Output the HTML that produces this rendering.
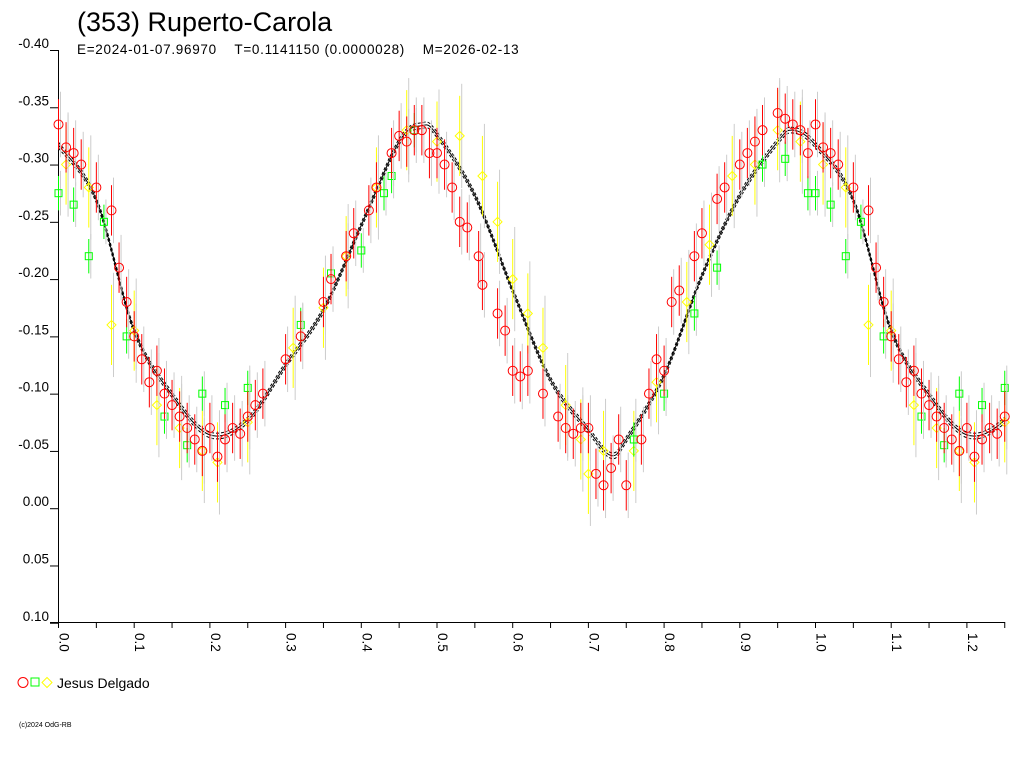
<!DOCTYPE html>
<html><head><meta charset="utf-8"><style>
body{margin:0;background:#fff;width:1024px;height:768px;overflow:hidden}
svg{display:block;font-family:"Liberation Sans",sans-serif}
</style></head><body>
<svg id="c" width="1024" height="768">
<text x="77" y="31" font-size="27">(353) Ruperto-Carola</text>
<text x="77" y="54" font-size="13.5" letter-spacing="0.7" xml:space="preserve">E=2024-01-07.96970    T=0.1141150 (0.0000028)    M=2026-02-13</text>
<g id="axes"></g>
<g id="model"></g>
<g id="pts"></g>
<g>
<circle cx="23" cy="682.5" r="5" fill="none" stroke="#f00"/>
<rect x="31" y="678" width="8" height="8" fill="none" stroke="#0f0"/>
<path d="M47 677.5 L52 682.5 L47 687.5 L42 682.5 Z" fill="none" stroke="#ff0"/>
<text x="57" y="688" font-size="14">Jesus Delgado</text>
</g>
<text x="19" y="727" font-size="7">(c)2024 OdG-RB</text>
</svg>
<script>
const xTicks=[0,0.1,0.2,0.3,0.4,0.5,0.6,0.7,0.8,0.9,1.0,1.1,1.2];
const xTickLabels=["0.0","0.1","0.2","0.3","0.4","0.5","0.6","0.7","0.8","0.9","1.0","1.1","1.2"];
const yTicks=[-0.40,-0.35,-0.30,-0.25,-0.20,-0.15,-0.10,-0.05,0.00,0.05,0.10];
const yTickLabels=["-0.40","-0.35","-0.30","-0.25","-0.20","-0.15","-0.10","-0.05","0.00","0.05","0.10"];
const modelPhase=[0,0.05,0.1,0.15,0.2,0.25,0.3,0.35,0.4,0.45,0.48,0.5,0.55,0.6,0.65,0.7,0.73,0.75,0.8,0.85,0.9,0.95,0.97,1.0];
const modelMag=[-0.317,-0.269,-0.155,-0.099,-0.064,-0.077,-0.125,-0.173,-0.247,-0.32,-0.334,-0.326,-0.273,-0.19,-0.112,-0.068,-0.046,-0.06,-0.116,-0.203,-0.273,-0.32,-0.33,-0.317];
const redPhase=[0,0.01,0.02,0.03,0.05,0.07,0.08,0.09,0.1,0.11,0.12,0.13,0.14,0.15,0.16,0.17,0.18,0.19,0.2,0.21,0.22,0.23,0.24,0.25,0.26,0.27,0.3,0.32,0.35,0.36,0.38,0.39,0.41,0.42,0.44,0.45,0.46,0.47,0.48,0.49,0.5,0.51,0.52,0.53,0.54,0.555,0.56,0.58,0.59,0.6,0.61,0.62,0.64,0.66,0.67,0.68,0.69,0.7,0.71,0.72,0.73,0.74,0.75,0.77,0.78,0.79,0.8,0.81,0.82,0.84,0.85,0.87,0.88,0.9,0.91,0.92,0.93,0.95,0.96,0.97,0.98,0.99];
const redMag=[-0.335,-0.315,-0.31,-0.3,-0.28,-0.26,-0.21,-0.18,-0.15,-0.13,-0.11,-0.12,-0.1,-0.09,-0.08,-0.07,-0.06,-0.05,-0.07,-0.045,-0.06,-0.07,-0.065,-0.08,-0.09,-0.1,-0.13,-0.15,-0.18,-0.2,-0.22,-0.24,-0.26,-0.28,-0.31,-0.325,-0.32,-0.33,-0.33,-0.31,-0.31,-0.3,-0.28,-0.25,-0.245,-0.22,-0.195,-0.17,-0.155,-0.12,-0.115,-0.12,-0.1,-0.08,-0.07,-0.065,-0.07,-0.07,-0.03,-0.02,-0.035,-0.06,-0.02,-0.06,-0.1,-0.13,-0.12,-0.18,-0.19,-0.22,-0.24,-0.27,-0.28,-0.3,-0.31,-0.32,-0.33,-0.345,-0.34,-0.335,-0.33,-0.31];
const greenPhase=[0,0.02,0.04,0.06,0.09,0.14,0.17,0.19,0.22,0.25,0.32,0.36,0.4,0.43,0.44,0.47,0.76,0.8,0.84,0.87,0.93,0.96,0.99];
const greenMag=[-0.275,-0.265,-0.22,-0.25,-0.15,-0.08,-0.055,-0.1,-0.09,-0.105,-0.16,-0.205,-0.225,-0.275,-0.29,-0.33,-0.06,-0.1,-0.17,-0.21,-0.3,-0.305,-0.275];
const yellowPhase=[0.01,0.04,0.07,0.1,0.13,0.16,0.19,0.21,0.25,0.31,0.35,0.38,0.42,0.46,0.5,0.53,0.56,0.58,0.6,0.62,0.64,0.67,0.69,0.7,0.72,0.76,0.79,0.83,0.86,0.89,0.92,0.95,0.98];
const yellowMag=[-0.3,-0.28,-0.16,-0.155,-0.09,-0.07,-0.05,-0.04,-0.075,-0.14,-0.175,-0.22,-0.28,-0.33,-0.32,-0.325,-0.29,-0.25,-0.2,-0.17,-0.14,-0.09,-0.06,-0.03,-0.05,-0.05,-0.11,-0.18,-0.23,-0.29,-0.3,-0.33,-0.32];
const redErr=0.022, greenErr=0.015, yellowErr=0.035;

const NS="http://www.w3.org/2000/svg";
const X=p=>58.5+p*757;
const Y=m=>50+(m+0.4)*1145.5;
function mk(tag,attrs,parent){const e=document.createElementNS(NS,tag);for(const k in attrs)e.setAttribute(k,attrs[k]);parent.appendChild(e);return e;}
const ax=document.getElementById('axes');
let e=mk('line',{x1:58.5,y1:50,x2:58.5,y2:623,stroke:'#000'},ax);


e=mk('line',{x1:50,y1:622.5,x2:1005,y2:622.5,stroke:'#000'},ax);


yTicks.forEach((v,i)=>{
  mk('line',{x1:50,y1:Y(v)+0.5,x2:58.5,y2:Y(v)+0.5,stroke:'#000'},ax);
  const t=mk('text',{x:49,y:Y(v)-2,'text-anchor':'end','font-size':13.5},ax);
  t.textContent=yTickLabels[i];
  
  
});
for(let k=0;k<=25;k++){const p=k*0.05;mk('line',{x1:X(p),y1:622,x2:X(p),y2:628,stroke:'#000'},ax);}
xTicks.forEach((v,i)=>{
  const t=mk('text',{x:0,y:0,'font-size':13.5,transform:`translate(${X(v)+1},633) rotate(90)`},ax);
  t.textContent=xTickLabels[i];
  
  
});
const mg=document.getElementById('model');
function curvePath(off){
  const P=[];for(let s=0;s<2;s++)modelPhase.forEach((p,i)=>{if(s==0||i>0)P.push([X(p+s),Y(modelMag[i]+off)]);});
  const pts=P;
  let d=`M${pts[0][0]},${pts[0][1]}`;
  for(let i=0;i<pts.length-1;i++){const p0=pts[Math.max(0,i-1)],p1=pts[i],p2=pts[i+1],p3=pts[Math.min(pts.length-1,i+2)];
    d+=` C${p1[0]+(p2[0]-p0[0])/6},${p1[1]+(p2[1]-p0[1])/6} ${p2[0]-(p3[0]-p1[0])/6},${p2[1]-(p3[1]-p1[1])/6} ${p2[0]},${p2[1]}`;}
  return d;
}
const cp=mk('clipPath',{id:'cl'},mg);
mk('rect',{x:0,y:0,width:1005,height:768},cp);
[[0,'none'],[0.0025,'3,2'],[-0.0025,'3,2']].forEach(([o,da])=>{
  const p=mk('path',{d:curvePath(o),fill:'none',stroke:'#000','stroke-width':1,'stroke-dasharray':da,'clip-path':'url(#cl)'},mg);
  
  
});
const pg=document.getElementById('pts');
function series(ph,mag,err,col,shape,name){
  ph.forEach((p,i)=>{
    [p,p+1].forEach(q=>{
      if(q>1.25)return;
      const x=X(q),y=Y(mag[i]);
      mk('line',{x1:x+2,y1:Y(mag[i]-err*1.3),x2:x+2,y2:Y(mag[i]+err*1.3),stroke:'#ccc'},pg);
      mk('line',{x1:x,y1:Y(mag[i]-err),x2:x,y2:Y(mag[i]+err),stroke:col},pg);
      let m;
      if(shape=='c')m=mk('circle',{cx:x,cy:y,r:4.5,fill:'none',stroke:col},pg);
      else if(shape=='s')m=mk('rect',{x:x-3.5,y:y-3.5,width:7,height:7,fill:'none',stroke:col},pg);
      else m=mk('path',{d:`M${x} ${y-4.5}L${x+4.5} ${y}L${x} ${y+4.5}L${x-4.5} ${y}Z`,fill:'none',stroke:col},pg);
      
      
    });
  });
}
series(yellowPhase,yellowMag,yellowErr,'#ff0','d','yellow-point');
series(greenPhase,greenMag,greenErr,'#0f0','s','green-point');
series(redPhase,redMag,redErr,'#f00','c','red-point');
</script>
</body></html>
